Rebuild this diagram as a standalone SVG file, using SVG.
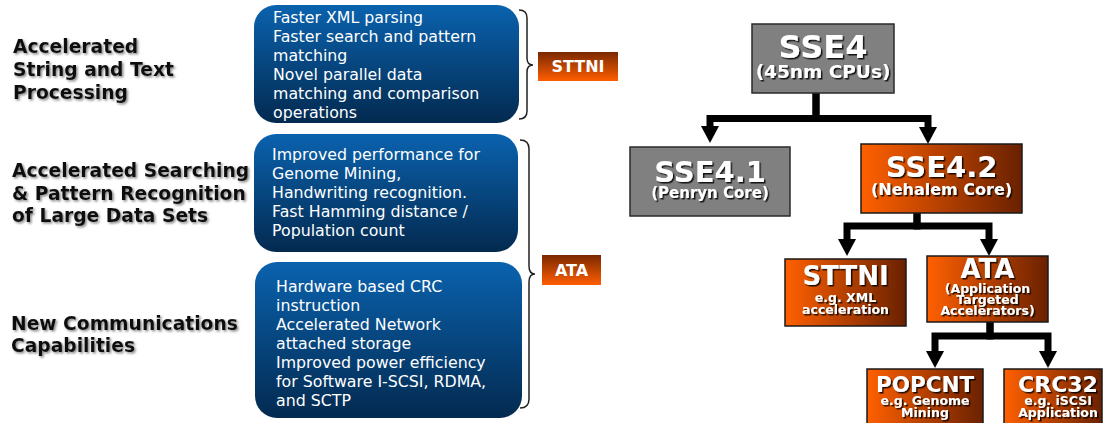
<svg xmlns="http://www.w3.org/2000/svg" width="1106" height="423" viewBox="0 0 1106 423">
<defs>
<linearGradient id="blue" x1="0" y1="0" x2="0" y2="1">
<stop offset="0" stop-color="#0a62ae"/>
<stop offset="1" stop-color="#032a50"/>
</linearGradient>
<linearGradient id="orangeH" x1="0" y1="0" x2="1" y2="0">
<stop offset="0" stop-color="#ff6000"/>
<stop offset="1" stop-color="#6a2100"/>
</linearGradient>
<linearGradient id="orangeV" x1="0" y1="0" x2="0" y2="1">
<stop offset="0" stop-color="#7a2800"/>
<stop offset="1" stop-color="#ff5e00"/>
</linearGradient>
<filter id="shadow" x="-10%" y="-10%" width="130%" height="140%">
<feDropShadow dx="1.5" dy="1.5" stdDeviation="0.6" flood-color="#000" flood-opacity="0.85"/>
</filter>
<filter id="lshadow" x="-10%" y="-10%" width="130%" height="140%">
<feDropShadow dx="1.5" dy="1.5" stdDeviation="0.8" flood-color="#666" flood-opacity="0.8"/>
</filter>
<marker id="arrow" viewBox="0 0 17 18" refX="0" refY="9" markerWidth="17" markerHeight="18" markerUnits="userSpaceOnUse" orient="auto">
<path d="M0,0 L17,9 L0,18 z" fill="#000"/>
</marker>
<style>
.lbl{font-family:"DejaVu Sans",Verdana,sans-serif;font-weight:bold;font-size:18.7px;fill:#111;filter:url(#lshadow)}
.desc{font-family:"DejaVu Sans",Verdana,sans-serif;font-size:15.8px;fill:#fff}
.bluebox{fill:url(#blue)}
.brace{fill:none;stroke:#222;stroke-width:1.5}
.tag{fill:url(#orangeV)}
.tagt{font-family:"DejaVu Sans",Verdana,sans-serif;font-weight:bold;font-size:16px;fill:#fff;text-anchor:middle}
.gray{fill:#808080;stroke:#2a2a2a;stroke-width:1.5}
.orange{fill:url(#orangeH);stroke:#1a1a1a;stroke-width:1.5}
.nt{font-family:"DejaVu Sans",Verdana,sans-serif;font-weight:bold;fill:#fff;text-anchor:middle;filter:url(#shadow)}
.conn{fill:none;stroke:#000;stroke-width:7;marker-end:url(#arrow)}
</style>
</defs>
<rect width="1106" height="423" fill="#fff"/>

<g id="label-string">
<text class="lbl" x="13" y="53">Accelerated</text>
<text class="lbl" x="13" y="76">String and Text</text>
<text class="lbl" x="13" y="99">Processing</text>
</g>
<g id="label-search">
<text class="lbl" x="12" y="177">Accelerated Searching</text>
<text class="lbl" x="12" y="200">&amp; Pattern Recognition</text>
<text class="lbl" x="12" y="222">of Large Data Sets</text>
</g>
<g id="label-comm">
<text class="lbl" x="11" y="330">New Communications</text>
<text class="lbl" x="11" y="352">Capabilities</text>
</g>

<g id="box-string">
<rect class="bluebox" x="254" y="5" width="265" height="118" rx="22"/>
<text class="desc" x="273" y="22.5">Faster XML parsing</text>
<text class="desc" x="273" y="41.5">Faster search and pattern</text>
<text class="desc" x="273" y="60.5">matching</text>
<text class="desc" x="273" y="79.5">Novel parallel data</text>
<text class="desc" x="273" y="98.5">matching and comparison</text>
<text class="desc" x="273" y="117.5">operations</text>
</g>
<g id="box-search">
<rect class="bluebox" x="254" y="134" width="264" height="118" rx="22"/>
<text class="desc" x="272" y="160">Improved performance for</text>
<text class="desc" x="272" y="179">Genome Mining,</text>
<text class="desc" x="272" y="198">Handwriting recognition.</text>
<text class="desc" x="272" y="217">Fast Hamming distance /</text>
<text class="desc" x="272" y="236">Population count</text>
</g>
<g id="box-comm">
<rect class="bluebox" x="255" y="262" width="267" height="156" rx="22"/>
<text class="desc" x="276" y="292">Hardware based CRC</text>
<text class="desc" x="276" y="311">instruction</text>
<text class="desc" x="276" y="330">Accelerated Network</text>
<text class="desc" x="276" y="349">attached storage</text>
<text class="desc" x="276" y="368">Improved power efficiency</text>
<text class="desc" x="276" y="387">for Software I-SCSI, RDMA,</text>
<text class="desc" x="276" y="406">and SCTP</text>
</g>

<g id="brace-sttni">
<path class="brace" d="M519,10 Q527,10 527,18 V58 Q527,65 533,65 Q527,65 527,72 V111 Q527,119 519,119"/>
</g>
<g id="brace-ata">
<path class="brace" d="M520,140 Q529,140 529,149 V266 Q529,274 535,274 Q529,274 529,282 V399 Q529,408 520,408"/>
</g>
<g id="tag-sttni">
<rect class="tag" x="538" y="52" width="80" height="29"/>
<text class="tagt" x="578" y="72">STTNI</text>
</g>
<g id="tag-ata">
<rect class="tag" x="542" y="255" width="59" height="30"/>
<text class="tagt" x="571.5" y="276">ATA</text>
</g>

<g id="connectors">
<path class="conn" d="M816,93 V118.5 H710 V126"/>
<path class="conn" d="M816,93 V118.5 H928 V127"/>
<path class="conn" d="M917,213 V226 H847 V239"/>
<path class="conn" d="M917,213 V226 H989 V239"/>
<path class="conn" d="M990,322 V336 H935 V351"/>
<path class="conn" d="M990,322 V336 H1048 V351"/>
</g>

<g id="node-sse4">
<rect class="gray" x="752" y="24" width="142" height="69"/>
<text class="nt" x="823" y="58" font-size="32">SSE4</text>
<text class="nt" x="823" y="78" font-size="18.5">(45nm CPUs)</text>
</g>
<g id="node-sse41">
<rect class="gray" x="630" y="147" width="160" height="69"/>
<text class="nt" x="710" y="182" font-size="29">SSE4.1</text>
<text class="nt" x="710" y="198" font-size="15">(Penryn Core)</text>
</g>
<g id="node-sse42">
<rect class="orange" x="861" y="144" width="161" height="69"/>
<text class="nt" x="941.5" y="177" font-size="29">SSE4.2</text>
<text class="nt" x="941.5" y="195" font-size="16">(Nehalem Core)</text>
</g>
<g id="node-sttni">
<rect class="orange" x="785" y="259" width="121" height="67"/>
<text class="nt" x="845.5" y="285" font-size="26">STTNI</text>
<text class="nt" x="845.5" y="302" font-size="12.5">e.g. XML</text>
<text class="nt" x="845.5" y="313.5" font-size="12.5">acceleration</text>
</g>
<g id="node-ata">
<rect class="orange" x="927" y="256" width="121" height="66"/>
<text class="nt" x="987.5" y="278" font-size="26">ATA</text>
<text class="nt" x="987.5" y="292.5" font-size="12.5">(Application</text>
<text class="nt" x="987.5" y="303.5" font-size="12.5">Targeted</text>
<text class="nt" x="987.5" y="314.5" font-size="12.5">Accelerators)</text>
</g>
<g id="node-popcnt">
<rect class="orange" x="867" y="369" width="116" height="62"/>
<text class="nt" x="925" y="392" font-size="21.5">POPCNT</text>
<text class="nt" x="925" y="405" font-size="12.5">e.g. Genome</text>
<text class="nt" x="925" y="417" font-size="12.5">Mining</text>
</g>
<g id="node-crc32">
<rect class="orange" x="1004" y="369" width="98" height="62"/>
<text class="nt" x="1058" y="392" font-size="22">CRC32</text>
<text class="nt" x="1058" y="405" font-size="12.5">e.g. iSCSI</text>
<text class="nt" x="1058" y="417" font-size="12.5">Application</text>
</g>
</svg>
